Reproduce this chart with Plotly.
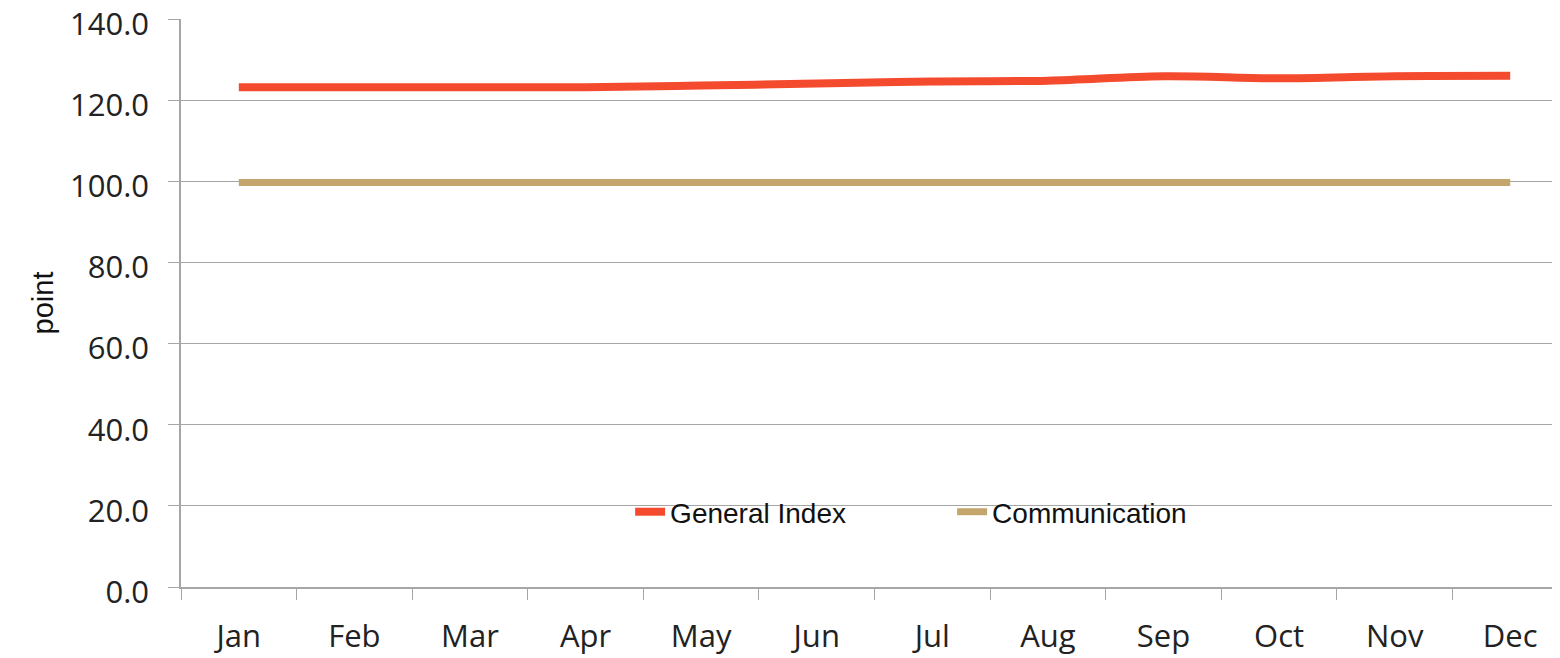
import plotly.graph_objects as go

months = ["Jan", "Feb", "Mar", "Apr", "May", "Jun", "Jul", "Aug", "Sep", "Oct", "Nov", "Dec"]
general_index = [123.2, 123.2, 123.2, 123.2, 123.6, 124.1, 124.6, 124.8, 125.9, 125.4, 125.9, 126.0]
communication = [99.7, 99.7, 99.7, 99.7, 99.7, 99.7, 99.7, 99.7, 99.7, 99.7, 99.7, 99.7]
y_ticks = [0, 20, 40, 60, 80, 100, 120, 140]

fig = go.Figure()
fig.add_trace(go.Scatter(x=months, y=general_index, name="General Index", mode="lines",
                         line=dict(color="#F44B2F", width=8, shape="spline")))
fig.add_trace(go.Scatter(x=months, y=communication, name="Communication", mode="lines",
                         line=dict(color="#C4A66C", width=7, shape="spline")))

grid = "#A6A6A6"
# the page body has an 8px margin, so the margins below are offset by 8px
fig.update_layout(
    width=1560, height=658,
    margin=dict(l=173, r=0, t=11, b=79),
    paper_bgcolor="white", plot_bgcolor="white",
    showlegend=True,
    legend=dict(orientation="h", x=0.3238, xanchor="left", y=0.132, yanchor="middle",
                bgcolor="rgba(0,0,0,0)", entrywidth=277,
                font=dict(family="Liberation Sans, Arial", size=28, color="#111111")),
    font=dict(family="Open Sans", color="#222222"),
)
fig.update_xaxes(type="category", range=[-0.5, 11.5], automargin=False,
                 showline=True, linecolor=grid, linewidth=1.5,
                 ticks="outside", ticklen=11, tickcolor=grid, tickson="boundaries",
                 ticklabelstandoff=21,
                 showgrid=False, tickfont=dict(family="Open Sans", size=31, color="#222222"))
fig.update_yaxes(range=[0, 140], tickvals=y_ticks, tickformat=".1f", automargin=False,
                 ticklabeloverflow="allow", ticklabelshift=5,
                 showline=True, linecolor=grid, linewidth=1.5,
                 ticks="outside", ticklen=11, tickcolor=grid, ticklabelstandoff=13,
                 showgrid=True, gridcolor=grid, gridwidth=1.2, zeroline=False,
                 tickfont=dict(family="Open Sans", size=31, color="#222222"),
                 title=dict(text="point", standoff=8,
                            font=dict(family="Liberation Sans, Arial", size=29, color="#111111")))

fig.write_html("out.html")
